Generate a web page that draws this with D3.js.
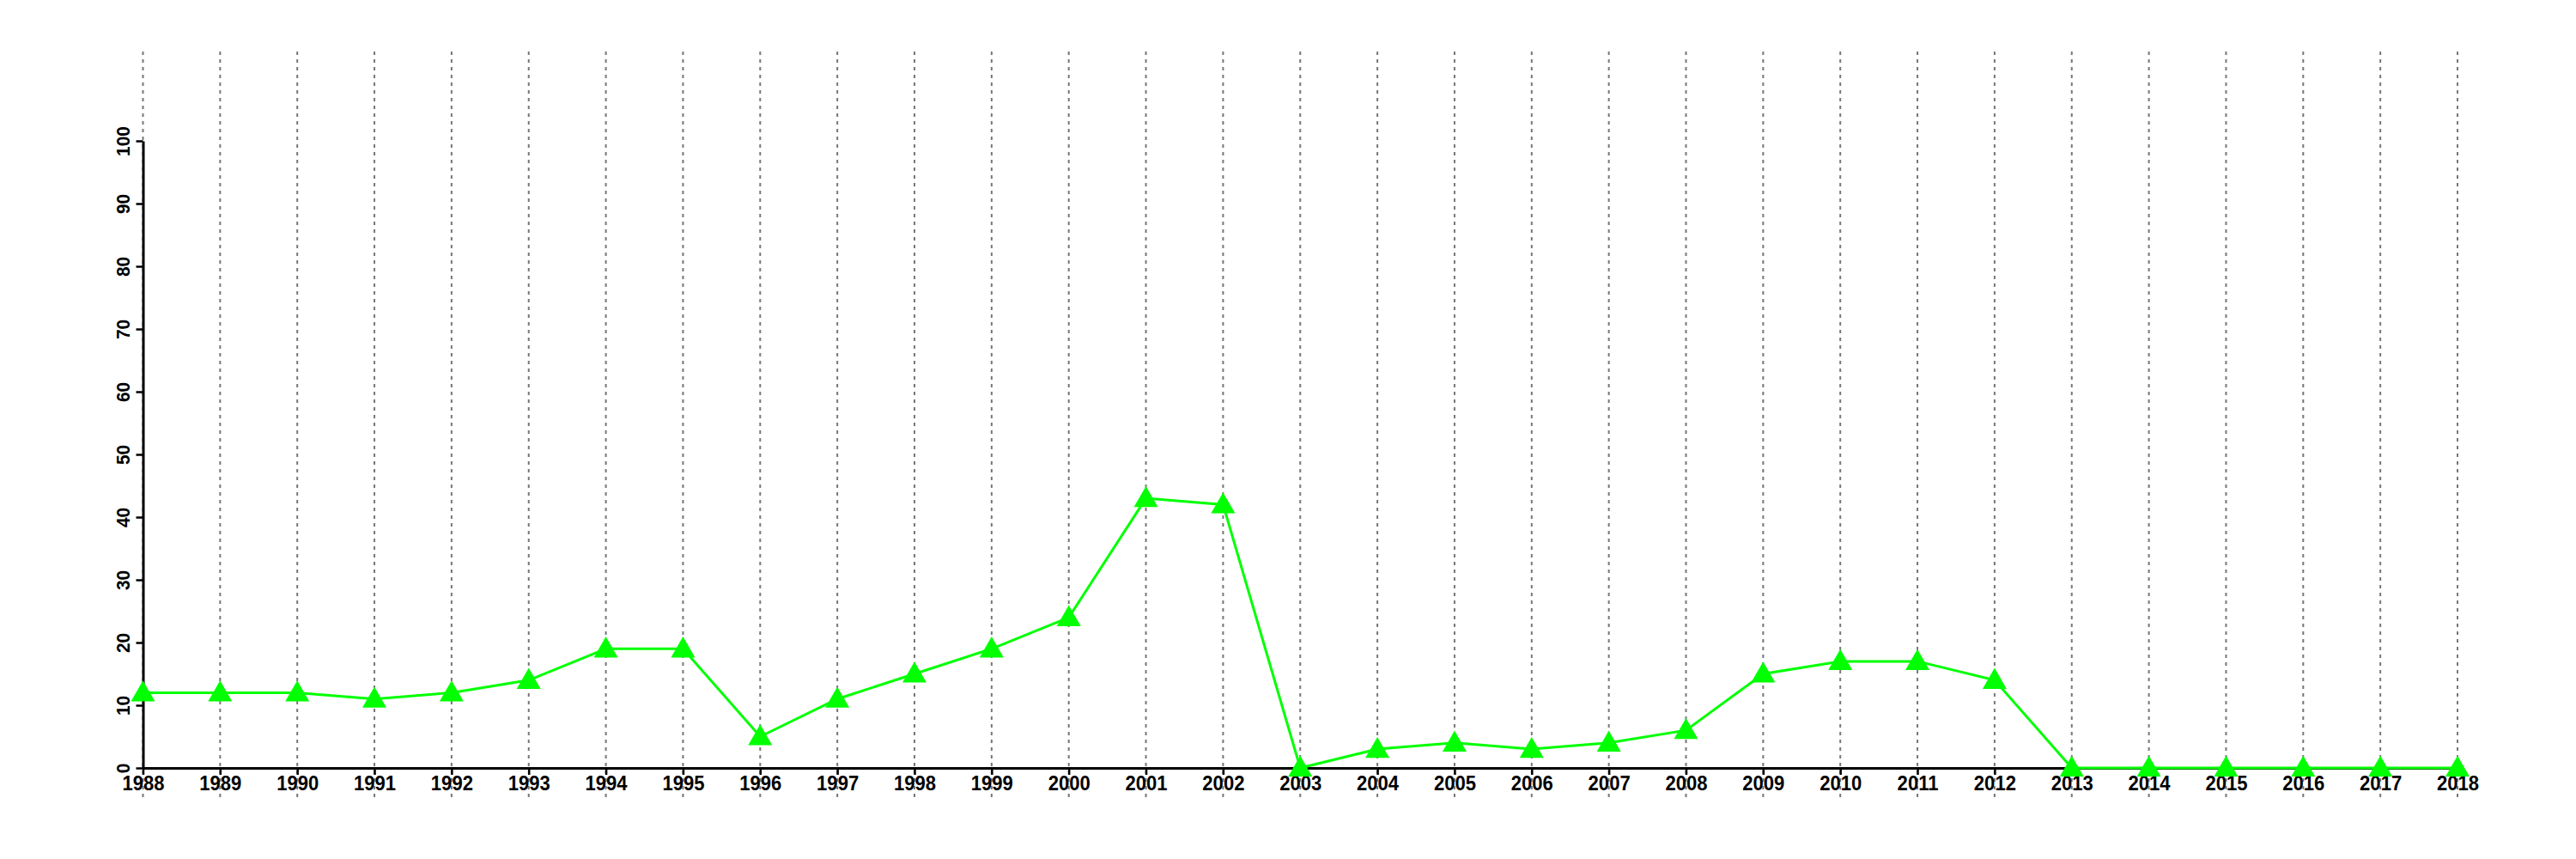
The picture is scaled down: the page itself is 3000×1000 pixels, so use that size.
<!DOCTYPE html>
<html><head><meta charset="utf-8">
<script src="https://cdn.jsdelivr.net/npm/d3@7"></script>
<style>body{margin:0;background:#fff}svg{display:block}text{font-family:"Liberation Sans",Arial,sans-serif;font-weight:bold}</style>
</head><body>
<script>
const years = [1988,1989,1990,1991,1992,1993,1994,1995,1996,1997,1998,1999,2000,2001,2002,2003,2004,2005,2006,2007,2008,2009,2010,2011,2012,2013,2014,2015,2016,2017,2018];
const values = [12,12,12,11,12,14,19,19,5,11,15,19,24,43,42,0,3,4,3,4,6,15,17,17,14,0,0,0,0,0,0];
const yTicks = [0,10,20,30,40,50,60,70,80,90,100];

const W=3000,H=1000;
const svg=d3.select("body").append("svg").attr("width",W).attr("height",H);
const x=d3.scaleLinear().domain([1988,2018]).range([166.5,2862]);
const y=d3.scaleLinear().domain([0,100]).range([894,164]);

// grid lines
svg.append("g").selectAll("line").data(years).join("line")
  .attr("x1",d=>x(d)).attr("x2",d=>x(d)).attr("y1",60).attr("y2",928)
  .attr("stroke","#777").attr("stroke-width",2).attr("stroke-dasharray","4,5");

// x axis
const xa=svg.append("g").attr("transform","translate(0,894)")
  .call(d3.axisBottom(x).tickValues(years).tickFormat(d3.format("d")).tickSize(8).tickSizeOuter(0));
xa.select(".domain").attr("stroke","#000").attr("stroke-width",3);
xa.selectAll(".tick line").attr("stroke","#000").attr("stroke-width",2.5);
xa.selectAll("text").attr("font-size",24).attr("fill","#000").attr("y",null).attr("dy",null)
  .attr("transform","translate(0,26) scale(0.92,1)");

// y axis
const ya=svg.append("g").attr("transform","translate(166.5,0)")
  .call(d3.axisLeft(y).tickValues(yTicks).tickSize(8).tickSizeOuter(0));
ya.select(".domain").attr("stroke","#000").attr("stroke-width",3);
ya.selectAll(".tick line").attr("stroke","#000").attr("stroke-width",2.5);
ya.selectAll("text").attr("font-size",22).attr("fill","#000")
  .attr("x",null).attr("dy",null).attr("text-anchor","middle")
  .attr("transform","translate(-16,0) rotate(-90) scale(0.95,1)");

// line
const pts=years.map((yr,i)=>({yr,v:values[i]}));
svg.append("path").datum(pts)
  .attr("d",d3.line().x(d=>x(d.yr)).y(d=>y(d.v)))
  .attr("fill","none").attr("stroke","#00ff00").attr("stroke-width",3);

// triangles
const tri=d3.symbol().type(d3.symbolTriangle).size(340);
svg.append("g").selectAll("path").data(pts).join("path")
  .attr("d",tri).attr("transform",d=>`translate(${x(d.yr)},${y(d.v)+2})`)
  .attr("fill","#00ff00");
</script>
</body></html>
